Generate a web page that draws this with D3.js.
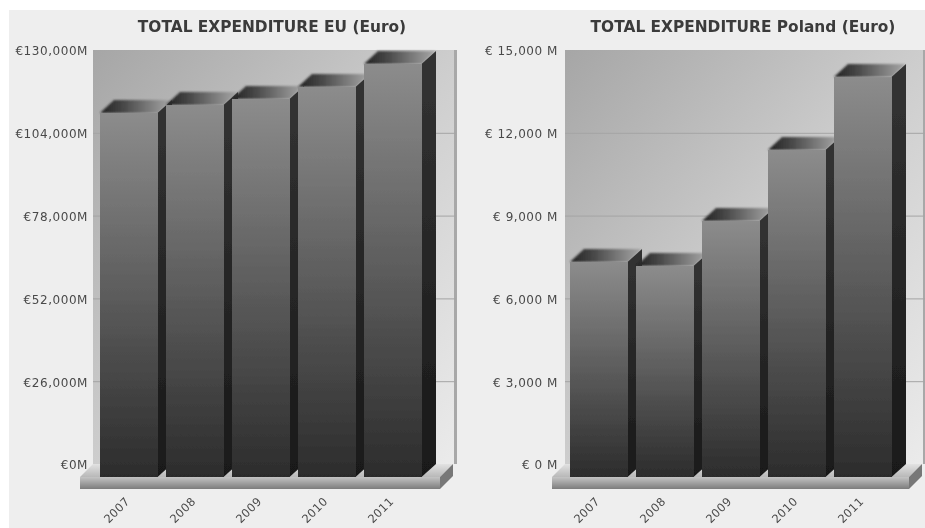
<!DOCTYPE html>
<html><head><meta charset="utf-8">
<script src="https://cdn.jsdelivr.net/npm/d3@7"></script>
<style>
html,body{margin:0;padding:0;background:#fff}
svg{display:block}
text{font-family:"DejaVu Sans",Verdana,sans-serif;fill:#4a4a4a}
.title{font-weight:bold;font-size:15.4px;fill:#3a3a3a}
.tick text{font-size:12px;letter-spacing:.55px}
.cat text{font-size:11.5px;letter-spacing:.4px}
</style></head><body>
<svg id="c" width="925" height="528"></svg>
<script>
const years = ["2007","2008","2009","2010","2011"];
const euValues = [114300,116800,118700,122500,129700];
const plValues = [7790,7645,9275,11850,14490];
const euTicks = [0,26000,52000,78000,104000,130000];
const plTicks = [0,3000,6000,9000,12000,15000];
const euTitle = "TOTAL EXPENDITURE EU (Euro)";
const plTitle = "TOTAL EXPENDITURE Poland (Euro)";

const svg = d3.select("#c");
svg.append("rect").attr("x",9).attr("y",10).attr("width",916).attr("height",518).attr("fill","#eeeeee");
const defs = svg.append("defs");
function grad(id,x2,y2,stops){
  const g = defs.append("linearGradient").attr("id",id).attr("x1",0).attr("y1",0).attr("x2",x2).attr("y2",y2);
  stops.forEach(s=>g.append("stop").attr("offset",s[0]).attr("stop-color",s[1]));
}
grad("front",0,1,[[0,"#8c8c8c"],[0.5,"#5c5c5c"],[1,"#2c2c2c"]]);
grad("side",0,1,[[0,"#333333"],[1,"#191919"]]);
grad("top",1,0,[[0,"#222222"],[0.3,"#444444"],[0.65,"#777777"],[1,"#a8a8a8"]]);
grad("wall",1,1,[[0,"#a6a6a6"],[0.5,"#cdcdcd"],[1,"#ebebeb"]]);
grad("plate",0,1,[[0,"#c4c4c4"],[0.5,"#a0a0a0"],[1,"#7c7c7c"]]);
grad("plateTop",0,1,[[0,"#e2e2e2"],[1,"#b8b8b8"]]);
defs.append("filter").attr("id","soft").attr("x","-10%").attr("y","-30%").attr("width","120%").attr("height","160%")
  .append("feGaussianBlur").attr("stdDeviation",1.2);
defs.append("filter").attr("id","jpeg").attr("filterUnits","userSpaceOnUse").attr("x",0).attr("y",0).attr("width",925).attr("height",528)
  .append("feGaussianBlur").attr("stdDeviation",0.45);

const DX = 14, DY = 13;   // 3-D depth of the box

function chart(cfg){
  const g = svg.append("g").attr("filter","url(#jpeg)");
  const y = d3.scaleLinear().domain([0,cfg.ticks[cfg.ticks.length-1]]).range([477,63]);
  const x = d3.scaleBand().domain(years).rangeRound([cfg.x0,cfg.x1]).paddingInner(0.125).paddingOuter(0);
  const wallL = cfg.wallL, wallR = cfg.wallR;
  // back wall
  g.append("rect").attr("x",wallL).attr("y",y.range()[1]-DY).attr("width",wallR-wallL).attr("height",y.range()[0]-y.range()[1])
    .attr("fill","url(#wall)");
  g.append("rect").attr("x",wallR-2).attr("y",y.range()[1]-DY).attr("width",3).attr("height",y.range()[0]-y.range()[1])
    .attr("fill","#a8a8a8");
  // grid lines on the wall
  g.selectAll("line.grid").data(cfg.ticks.slice(1,-1)).join("line").attr("class","grid")
    .attr("x1",wallL).attr("x2",wallR).attr("y1",d=>y(d)-DY+.5).attr("y2",d=>y(d)-DY+.5)
    .attr("stroke","#a4a4a4");
  // floor plate
  const f = y(0), L = wallL-13, R = wallR-16;
  g.append("path").attr("d",`M${L+13},${f-DY}L${R+13},${f-DY}L${R},${f}L${L},${f}Z`).attr("fill","url(#plateTop)");
  g.append("rect").attr("x",L).attr("y",f).attr("width",R-L).attr("height",12).attr("fill","url(#plate)");
  g.append("path").attr("d",`M${R},${f}L${R+13},${f-DY}L${R+13},${f-DY+12}L${R},${f+12}Z`).attr("fill","#777");
  // bars
  const bars = g.selectAll("g.bar").data(cfg.values.map((v,i)=>({v,year:years[i]}))).join("g").attr("class","bar");
  const w = x.bandwidth();
  bars.append("path").attr("fill","url(#top)").attr("filter","url(#soft)")
    .attr("d",d=>`M${x(d.year)},${y(d.v)}l${DX},${-DY}h${w}l${-DX},${DY}Z`);
  bars.append("path").attr("fill","url(#side)")
    .attr("d",d=>`M${x(d.year)+w-0.5},${y(d.v)}l${DX+0.5},${-DY}L${x(d.year)+w+DX},${f-DY}L${x(d.year)+w-0.5},${f}Z`);
  bars.append("rect").attr("x",d=>x(d.year)).attr("y",d=>y(d.v)).attr("width",w).attr("height",d=>f-y(d.v))
    .attr("fill","url(#front)");
  // value axis (drawn on the back wall plane)
  const ay = g.append("g").attr("transform",`translate(${cfg.axisX},${-DY+1})`)
    .call(d3.axisLeft(y).tickValues(cfg.ticks).tickSize(0).tickPadding(0).tickFormat(cfg.fmt));
  ay.select(".domain").remove();
  // category axis
  const ax = g.append("g").attr("class","cat").attr("transform",`translate(0,${f+12})`)
    .call(d3.axisBottom(x).tickSize(0).tickPadding(0));
  ax.select(".domain").remove();
  ax.selectAll("text").attr("text-anchor","end").attr("dy",0)
    .attr("transform","translate(1,13) rotate(-45)");
  g.append("text").attr("class","title").attr("x",cfg.titleX).attr("y",32).attr("text-anchor","middle").text(cfg.title);
}
chart({title:euTitle,titleX:272,values:euValues,ticks:euTicks,x0:99,x1:422,wallL:93,wallR:456,axisX:88,
  fmt:d=>"€"+d3.format(",")(d)+"M"});
chart({title:plTitle,titleX:743,values:plValues,ticks:plTicks,x0:570,x1:892,wallL:565,wallR:925,axisX:558,
  fmt:d=>"€ "+d3.format(",")(d)+" M"});
</script></body></html>
